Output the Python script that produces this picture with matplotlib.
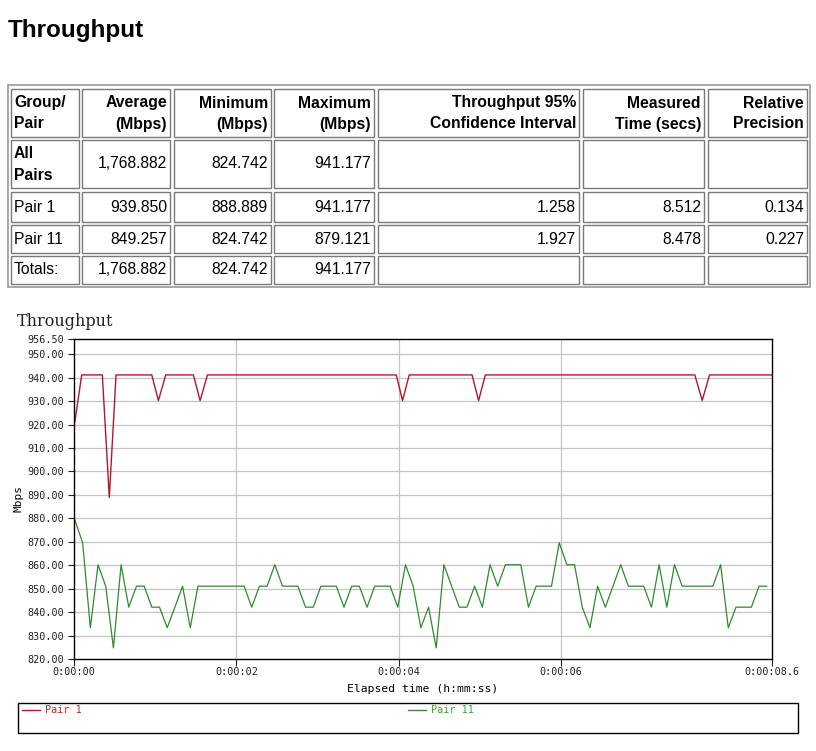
import numpy as np
import matplotlib
matplotlib.use('Agg')
import matplotlib.pyplot as plt
from matplotlib.patches import Rectangle

# ---- summary table ----
col_headers = [["Group/", "Pair"], ["Average", "(Mbps)"], ["Minimum", "(Mbps)"],
               ["Maximum", "(Mbps)"], ["Throughput 95%", "Confidence Interval"],
               ["Measured", "Time (secs)"], ["Relative", "Precision"]]
row_names = [["All", "Pairs"], ["Pair 1"], ["Pair 11"], ["Totals:"]]
avg_mbps = ["1,768.882", "939.850", "849.257", "1,768.882"]
min_mbps = ["824.742", "888.889", "824.742", "824.742"]
max_mbps = ["941.177", "941.177", "879.121", "941.177"]
conf_int = ["", "1.258", "1.927", ""]
meas_time = ["", "8.512", "8.478", ""]
rel_prec = ["", "0.134", "0.227", ""]

# ---- Pair 1: recorded points (s, Mbps) ----
p1_time = [0.01, 0.095, 0.349, 0.435, 0.518, 0.958, 1.04, 1.13, 1.471, 1.554,
           1.644, 3.97, 4.048, 4.13, 4.904, 4.985, 5.068, 7.649, 7.74, 7.83, 8.6]
p1_mbps = [921.0, 941.177, 941.177, 888.889, 941.177, 941.177, 930.233, 941.177,
           941.177, 930.233, 941.177, 941.177, 930.233, 941.177, 941.177, 930.233,
           941.177, 941.177, 930.233, 941.177, 941.177]

# ---- Pair 11: one record per timing interval ----
p11_start = 0.012
p11_dt = 0.0947
p11_mbps = [879.121, 869.565, 833.333, 860.215, 851.064, 824.742, 860.215, 842.105,
            851.064, 851.064, 842.105, 842.105, 833.333, 842.105, 851.064, 833.333,
            851.064, 851.064, 851.064, 851.064, 851.064, 851.064, 851.064, 842.105,
            851.064, 851.064, 860.215, 851.064, 851.064, 851.064, 842.105, 842.105,
            851.064, 851.064, 851.064, 842.105, 851.064, 851.064, 842.105, 851.064,
            851.064, 851.064, 842.105, 860.215, 851.064, 833.333, 842.105, 824.742,
            860.215, 851.064, 842.105, 842.105, 851.064, 842.105, 860.215, 851.064,
            860.215, 860.215, 860.215, 842.105, 851.064, 851.064, 851.064, 869.565,
            860.215, 860.215, 842.105, 833.333, 851.064, 842.105, 851.064, 860.215,
            851.064, 851.064, 851.064, 842.105, 860.215, 842.105, 860.215, 851.064,
            851.064, 851.064, 851.064, 851.064, 860.215, 833.333, 842.105, 842.105,
            842.105, 851.064, 851.064]
p11_time = p11_start + p11_dt * np.arange(len(p11_mbps))

yticks = [820, 830, 840, 850, 860, 870, 880, 890, 900, 910, 920, 930, 940, 950, 956.5]
xticks = [0, 2, 4, 6, 8.6]
xtick_labels = ["0:00:00", "0:00:02", "0:00:04", "0:00:06", "0:00:08.6"]

W, H = 816, 751
fig = plt.figure(figsize=(W / 100, H / 100), dpi=100)
bg = fig.add_axes([0, 0, 1, 1])
bg.set_xlim(0, W)
bg.set_ylim(H, 0)
bg.axis('off')

sans = 'Liberation Sans'
mono = 'DejaVu Sans Mono'

bg.text(8, 30, "Throughput", fontsize=17.5, fontweight='bold', family=sans,
        va='center', ha='left')

# table borders
bg.add_patch(Rectangle((8, 85), 802, 202, fill=False, ec='#9a9a9a', lw=1.2))
col_x = [(11, 79), (82, 170), (174, 271), (274, 374), (378, 579), (583, 704), (708, 807)]
row_y = [(89, 137), (140, 188), (192, 222), (225, 253), (256, 284)]
for x0, x1 in col_x:
    for y0, y1 in row_y:
        bg.add_patch(Rectangle((x0, y0), x1 - x0, y1 - y0, fill=False,
                               ec='#7a7a7a', lw=1.0))

fs = 11.3
for j, (x0, x1) in enumerate(col_x):
    for k, line in enumerate(col_headers[j]):
        y = 103 + 21 * k
        if j == 0:
            bg.text(x0 + 3, y, line, fontsize=fs, fontweight='bold', family=sans,
                    ha='left', va='center')
        else:
            bg.text(x1 - 3, y, line, fontsize=fs, fontweight='bold', family=sans,
                    ha='right', va='center')

cols = [avg_mbps, min_mbps, max_mbps, conf_int, meas_time, rel_prec]
for i in range(len(row_names)):
    y0, y1 = row_y[i + 1]
    yc = (y0 + y1) / 2
    names = row_names[i]
    if len(names) == 2:
        bg.text(14, yc - 10, names[0], fontsize=fs, fontweight='bold', family=sans,
                ha='left', va='center')
        bg.text(14, yc + 11, names[1], fontsize=fs, fontweight='bold', family=sans,
                ha='left', va='center')
    else:
        bg.text(14, yc, names[0], fontsize=fs, family=sans, ha='left', va='center')
    for j, col in enumerate(cols):
        bg.text(col_x[j + 1][1] - 3, yc, col[i], fontsize=fs, family=sans,
                ha='right', va='center')

# chart
bg.text(17, 321, "Throughput", fontsize=11.5, family='DejaVu Serif',
        ha='left', va='center', color='#222222')

ax = fig.add_axes([74 / W, 1 - 659 / H, 698 / W, 320 / H])
ax.plot(p1_time, p1_mbps, color='#b2182b', lw=1.0)
ax.plot(p11_time, p11_mbps, color='#2e8b2e', lw=0.9)
ax.set_xlim(0, 8.6)
ax.set_ylim(820, 956.5)
ax.set_yticks(yticks)
ax.set_yticklabels(["%.2f" % v for v in yticks], family=mono, fontsize=7.3)
ax.set_xticks(xticks)
ax.set_xticklabels(xtick_labels, family=mono, fontsize=7.3)
for v in yticks[1:-1]:
    ax.axhline(v, color='#c4c4c4', lw=0.9, zorder=0)
for v in xticks[1:-1]:
    ax.axvline(v, color='#c4c4c4', lw=0.9, zorder=0)
ax.tick_params(axis='y', length=4, width=0.8, pad=3, colors='#222222')
ax.tick_params(axis='x', length=5, width=0.8, pad=1, colors='#222222')
for s in ax.spines.values():
    s.set_color('black')
    s.set_linewidth(1.0)
ax.set_xlabel("Elapsed time (h:mm:ss)", family=mono, fontsize=8.2, labelpad=5)
ax.set_ylabel("Mbps", family=mono, fontsize=8.0)
ax.yaxis.set_label_coords((24 - 74) / 698, 0.5)

# legend box
bg.add_patch(Rectangle((18, 703), 780, 30, fill=False, ec='black', lw=1.0))
bg.plot([22, 40], [710, 710], color='#b2182b', lw=1.0)
bg.text(45, 710, "Pair 1", family=mono, fontsize=7.3, color='#cc2222', va='center')
bg.plot([408, 426], [710, 710], color='#2e8b2e', lw=1.0)
bg.text(431, 710, "Pair 11", family=mono, fontsize=7.3, color='#33aa33', va='center')

fig.savefig('out.png', dpi=100)
